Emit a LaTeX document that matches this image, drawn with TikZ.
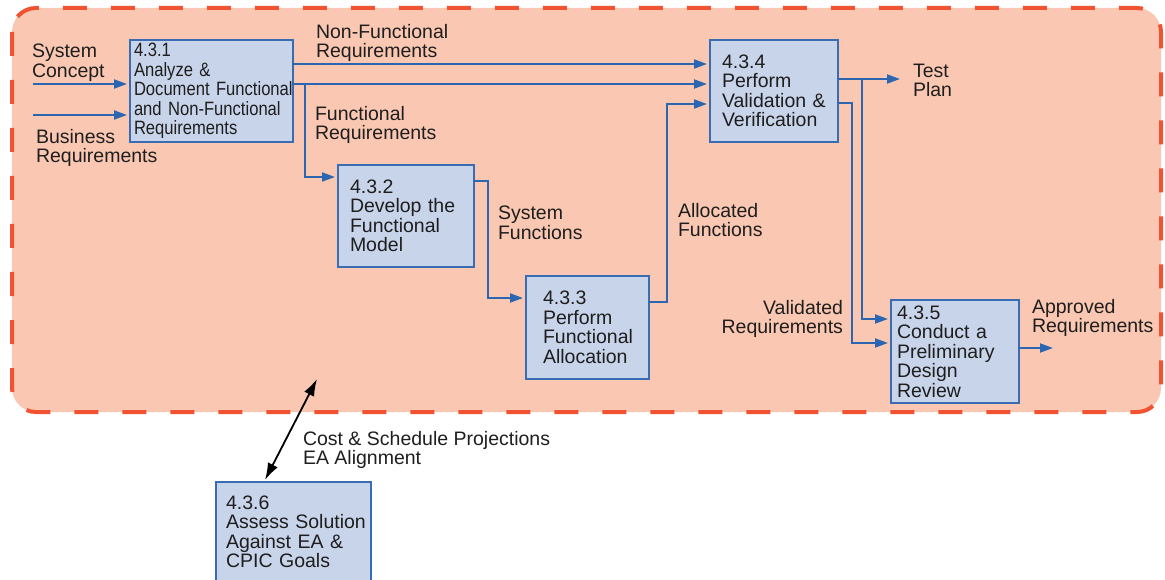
\documentclass[tikz,border=0pt]{standalone}
\usepackage{fontspec}
\setmainfont{Liberation Sans}
\newfontfamily\condfont[FakeStretch=0.86,WordSpace=0.8]{Liberation Sans}
\usetikzlibrary{arrows.meta}
\definecolor{regionfill}{RGB}{250,200,178}
\definecolor{regiondash}{RGB}{240,82,50}
\definecolor{boxfill}{RGB}{200,212,234}
\definecolor{boxline}{RGB}{58,108,178}
\definecolor{flowc}{RGB}{44,102,176}
\definecolor{txt}{RGB}{30,30,30}
\newcommand{\mainfs}{\fontsize{19.5}{19.5}\selectfont\hyphenpenalty=10000\exhyphenpenalty=10000}
\newcommand{\condfs}{\condfont\fontsize{19.3}{19.5}\selectfont\hyphenpenalty=10000\exhyphenpenalty=10000}
\tikzset{
  region/.style={fill=regionfill, draw=regiondash, line width=4pt, dash pattern=on 24pt off 24pt, rounded corners=24pt},
  proc/.style={draw=boxline, fill=boxfill, line width=1.6pt, anchor=north west, align=left,
    inner ysep=0pt, outer sep=0pt, font=\mainfs, text=txt},
  lbl/.style={anchor=north west, align=left, inner sep=0pt, outer sep=0pt, font=\mainfs, text=txt},
  flow/.style={draw=flowc, line width=2pt, -{Triangle[length=13pt,width=9pt]}, shorten >=3pt},
  both/.style={draw=black, line width=1.8pt, {Latex[length=17pt,width=11pt]}-{Latex[length=17pt,width=11pt]}}
}
\begin{document}
\begin{tikzpicture}[x=1pt,y=-1pt]
\useasboundingbox (0,0) rectangle (1165,580);
\draw[region] (12,8) rectangle (1161,412);

% process boxes
\node[proc, font=\condfs, text width=155pt, inner xsep=4pt, minimum height=102pt] (n431) at (130,40)
  {4.3.1\\Analyze~\&\\Document~Functional\\and~Non-Functional\\Requirements};
\node[proc, text width=112pt, inner xsep=12pt, minimum height=102pt] (n432) at (338,165)
  {4.3.2\\Develop~the\\Functional\\Model};
\node[proc, text width=89pt, inner xsep=17pt, minimum height=103pt] (n433) at (526,276)
  {4.3.3\\Perform\\Functional\\Allocation};
\node[proc, text width=104pt, inner xsep=12pt, minimum height=102pt] (n434) at (710,40)
  {4.3.4\\Perform\\Validation~\&\\Verification};
\node[proc, text width=116pt, inner xsep=6pt, minimum height=103pt] (n435) at (891,300)
  {4.3.5\\Conduct~a\\Preliminary\\Design\\Review};
\node[proc, text width=135pt, inner xsep=10pt, minimum height=100pt] (n436) at (216,482)
  {4.3.6\\Assess~Solution\\Against~EA~\&\\CPIC~Goals};

% free ends
\coordinate (inSC) at (33,84);
\coordinate (inBR) at (33,115);
\coordinate (tp) at (903,79);
\coordinate (ap) at (1056,348);
\coordinate (cs) at (317,379);

% connectors
\draw[flow] (inSC) -- (inSC -| n431.west);
\draw[flow] (inBR) -- (inBR -| n431.west);
\draw[flow] ([yshift=-24pt]n431.north east) -- ([yshift=-24pt]n434.north west);
\draw[flow] ([yshift=-44pt]n431.north east) -- ([yshift=-44pt]n434.north west);
\draw[flow] ([xshift=12pt,yshift=-44pt]n431.north east) |- ([yshift=-12pt]n432.north west);
\draw[flow] ([yshift=-16pt]n432.north east) -- ++(14pt,0pt) |- ([yshift=-22pt]n433.north west);
\draw[flow] ([yshift=-26pt]n433.north east) -- ++(18pt,0pt) |- ([yshift=-64pt]n434.north west);
\draw[flow] ([yshift=-39pt]n434.north east) -- (tp);
\draw[flow] ([xshift=24pt,yshift=-39pt]n434.north east) |- ([yshift=-19pt]n435.north west);
\draw[flow] ([yshift=-63pt]n434.north east) -- ++(14pt,0pt) |- ([yshift=-43pt]n435.north west);
\draw[flow] ([yshift=-48pt]n435.north east) -- (ap);
\draw[both] (cs) -- ([xshift=49pt,yshift=2pt]n436.north west);

% labels
\node[lbl] (lSC) at (32,44) {System\\Concept};
\node[lbl] (lBR) at (36,129) {Business\\Requirements};
\node[lbl] (lNF) at (316,24) {Non-Functional\\Requirements};
\node[lbl] (lFR) at (315,106) {Functional\\Requirements};
\node[lbl] (lSF) at (498,206) {System\\Functions};
\node[lbl] (lAF) at (678,203) {Allocated\\Functions};
\node[lbl] (lTP) at (913,64) {Test\\Plan};
\node[lbl, anchor=north east, align=right] (lVR) at (843,300) {Validated\\Requirements};
\node[lbl] (lAR) at (1032,299) {Approved\\Requirements};
\node[lbl] (lCS) at (303,431) {Cost \& Schedule Projections\\EA Alignment};
\end{tikzpicture}
\end{document}
